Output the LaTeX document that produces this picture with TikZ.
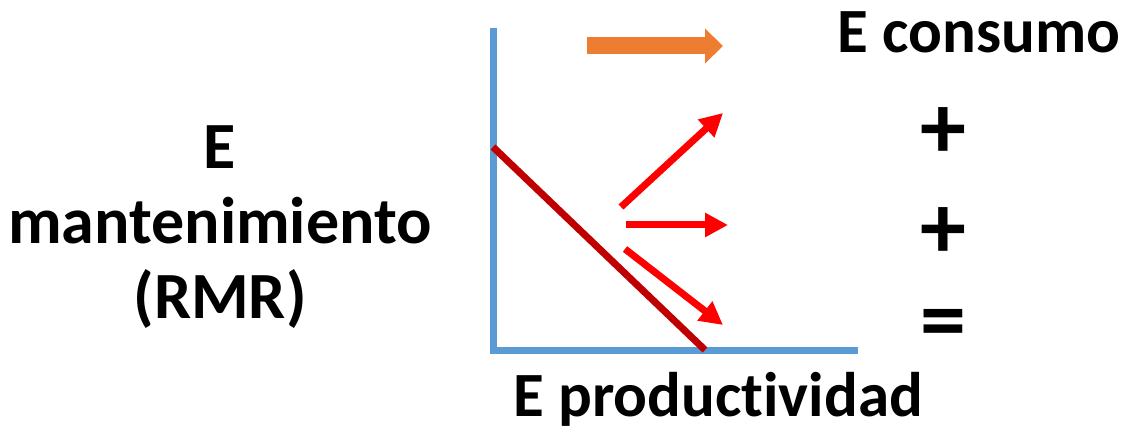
\documentclass[tikz,border=0pt]{standalone}
\usepackage{fontspec}
\setmainfont{Carlito}[Ligatures={NoCommon}]
\usetikzlibrary{arrows.meta, positioning}
\definecolor{axisBlue}{HTML}{5B9BD5}
\definecolor{rmrRed}{HTML}{C00000}
\definecolor{consumoOrange}{HTML}{ED7D31}
\definecolor{flowRed}{HTML}{FF0000}
\tikzset{
  bigtext/.style={font=\fontsize{63}{75}\selectfont\bfseries, inner sep=0pt},
  sidetext/.style={font=\fontsize{66}{75}\selectfont\bfseries, inner sep=0pt},
  signtext/.style={font=\fontsize{92}{92}\selectfont\bfseries, inner sep=0pt},
  flowarrow/.style={flowRed, line width=7pt, -{Triangle[length=23pt, width=23pt]}},
}

\begin{document}
\begin{tikzpicture}[x=1pt, y=-1pt]
    \useasboundingbox (0,0) rectangle (1127,430);
    % axes
    \coordinate (yTop) at (493,28);
    \coordinate (origin) at (493,350);
    \coordinate (xEnd) at (858,350);
    \draw[axisBlue, line width=7pt] (yTop) -- (origin) -- (xEnd);
    % maintenance line
    \coordinate (rmrTop) at (493,147);
    \coordinate (rmrEnd) at (705,350);
    \draw[rmrRed, line width=7pt] (rmrTop) -- (rmrEnd);
    % consumption arrow
    \coordinate (consStart) at (587,46);
    \coordinate (consTip) at (723,46);
    \draw[consumoOrange, line width=17pt, -{Triangle[length=18pt, width=34pt]}] (consStart) -- (consTip);
    % partition arrows
    \coordinate (upStart) at (621,207);
    \coordinate (upTip) at (723,113);
    \coordinate (midStart) at (626,225);
    \coordinate (midTip) at (728,225);
    \coordinate (downStart) at (625,249);
    \coordinate (downTip) at (723,325);
    \draw[flowarrow] (upStart) -- (upTip);
    \draw[flowarrow] (midStart) -- (midTip);
    \draw[flowarrow] (downStart) -- (downTip);
    % labels
    \node[sidetext, align=center] (maint) at (220,227) {E\\mantenimiento\\(RMR)};
    \node[bigtext, anchor=base] (consumo) at (979,53) {E consumo};
    \node[signtext] (plusOne) at (943,133) {+};
    \node[signtext] (plusTwo) at (943,233) {+};
    \node[signtext] (equals) at (943,330) {=};
    \node[bigtext, anchor=base] (prod) at (718,416) {E productividad};
\end{tikzpicture}
\end{document}
